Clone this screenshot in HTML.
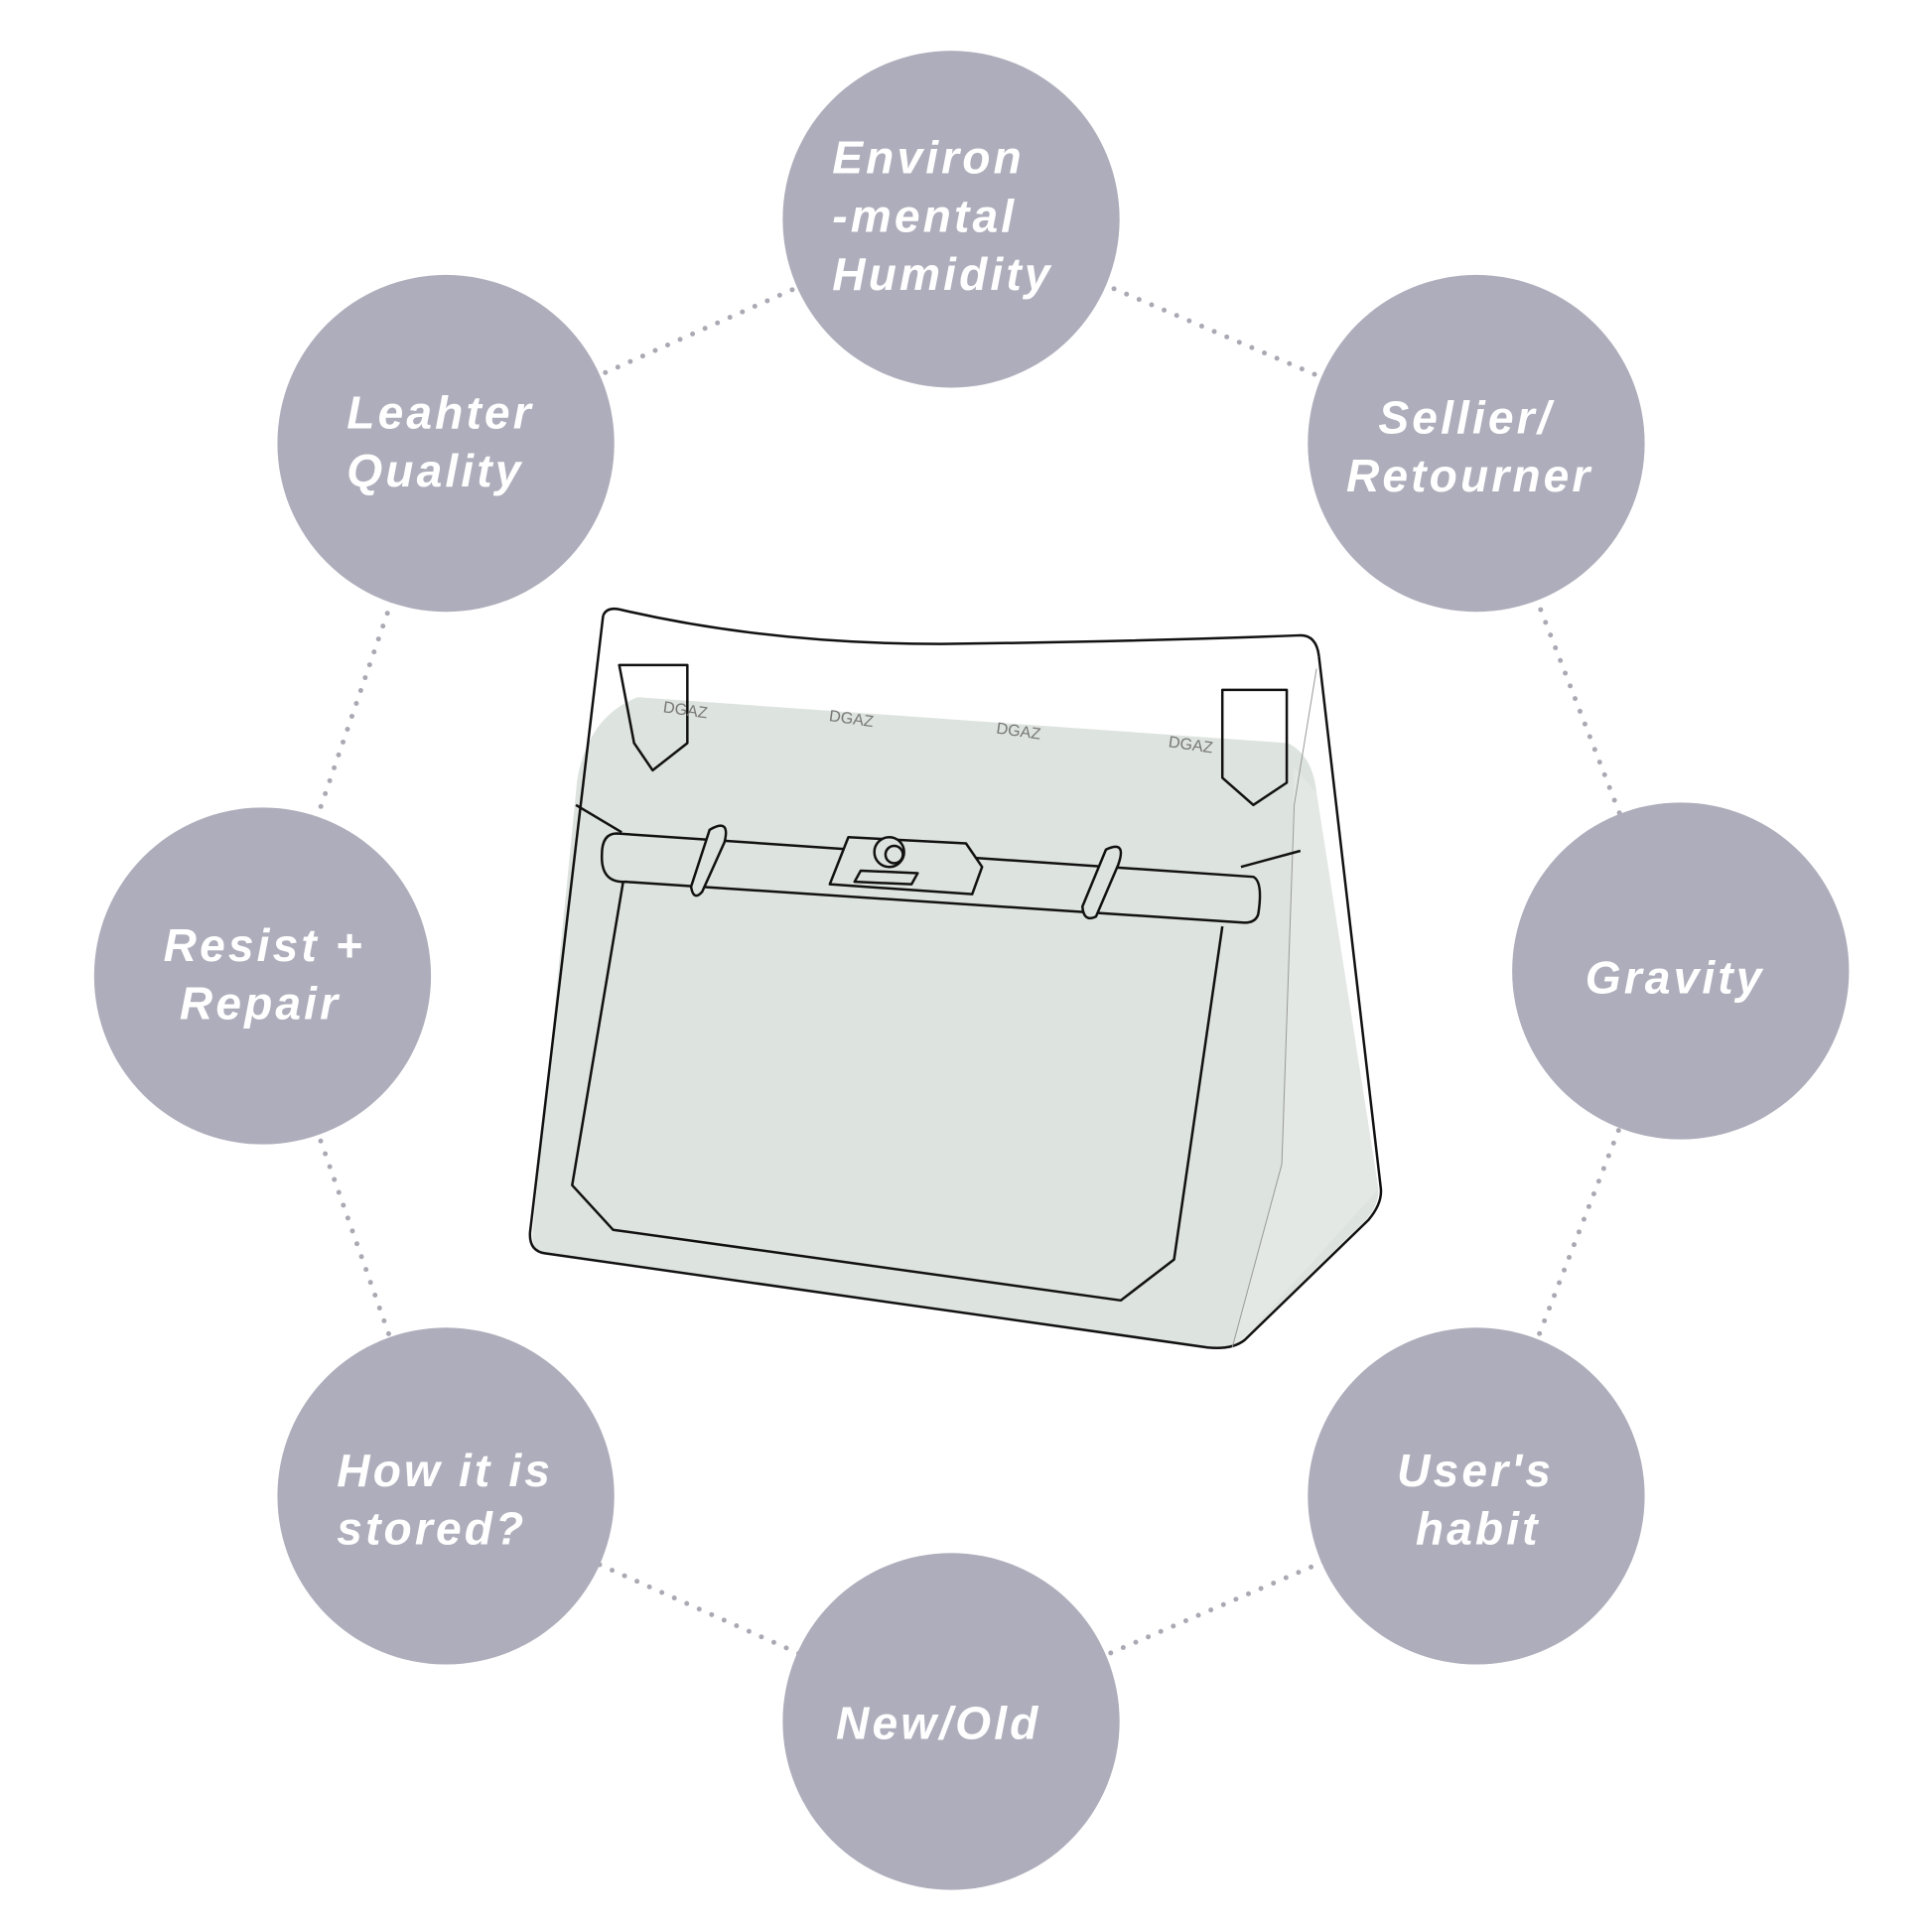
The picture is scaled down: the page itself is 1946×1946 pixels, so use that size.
<!DOCTYPE html>
<html><head><style>html,body{margin:0;padding:0;background:#fff;width:1946px;height:1946px;overflow:hidden}</style></head>
<body>
<svg width="1946" height="1946" viewBox="0 0 1560 1560" xmlns="http://www.w3.org/2000/svg">
<g stroke="#aaa9b3" stroke-width="4" stroke-linecap="round" stroke-dasharray="0 11" fill="none">
<polyline points="768,177 1192,358 1357,784 1192,1208 768,1390 360,1208 212,788 360,358 768,177"/>
</g>
<!-- bag -->
<path d="M515,563 L1040,600 Q1060,610 1063,640 L1113,960 Q1114,972 1103,985 L1003,1082 Q993,1090 975,1088 L440,1012 Q429,1010 430,995 L466,630 Q475,578 515,563 Z" fill="#dde3de"/>
<path d="M1045,620 L1063,640 L1113,960 L1003,1082 L995,1086 L1035,940 Z" fill="#e3e8e4"/>
<g stroke="#111" stroke-width="2" fill="none" stroke-linejoin="round">
<path d="M487,497 Q490,490 500,492 Q620,520 760,520 Q920,518 1050,513 Q1063,513 1065,530"/>
<path d="M487,497 L428,995 Q427,1010 440,1012 L975,1088 Q995,1090 1005,1082 L1105,985 Q1116,972 1115,960 L1065,530"/>
<path d="M1063,540 L1045,650 L1035,940 L995,1088" stroke-width="0.8" stroke="#999"/>
<path d="M500,537 L555,537 L555,600 L527,622 L512,600 Z"/>
<path d="M987,557 L1039,557 L1039,632 L1012,650 L987,628 Z"/>
<path d="M465,650 L502,672"/>
<path d="M1050,687 L1002,700"/>
<path d="M498,673 L1012,708 Q1020,712 1016,738 Q1014,745 1005,745 L505,712 Q485,713 486,690 Q486,673 498,673 Z" fill="#dde3de"/>
<path d="M503,713 L462,957 L495,993 L905,1050 L948,1017 L987,748"/>
<path d="M573,670 Q590,660 585,680 L567,720 Q560,728 558,716 Z" fill="#dde3de"/>
<path d="M893,686 Q910,678 903,698 L885,740 Q875,745 874,732 Z" fill="#dde3de"/>
<path d="M685,676 L780,681 L793,700 L785,722 L670,714 Z" fill="#dde3de"/>
<circle cx="718" cy="688" r="12" fill="#dde3de"/><circle cx="722" cy="690" r="7"/>
<path d="M695,703 L741,705 L736,714 L690,712 Z"/>
</g>
<g font-family="Liberation Sans, sans-serif" font-size="13" fill="#777">
<text x="535" y="575" transform="rotate(8 535 575)">DGAZ</text>
<text x="669" y="582" transform="rotate(8 669 582)">DGAZ</text>
<text x="804" y="592" transform="rotate(8 804 592)">DGAZ</text>
<text x="943" y="603" transform="rotate(8 943 603)">DGAZ</text>
</g>
<g fill="#aeadbb">
<circle cx="768" cy="177" r="136"/><circle cx="360" cy="358" r="136"/><circle cx="1192" cy="358" r="136"/>
<circle cx="212" cy="788" r="136"/><circle cx="1357" cy="784" r="136"/><circle cx="360" cy="1208" r="136"/>
<circle cx="1192" cy="1208" r="136"/><circle cx="768" cy="1390" r="136"/>
</g>
<g font-family="Liberation Sans, sans-serif" font-weight="bold" font-style="italic" font-size="37" fill="#fff" letter-spacing="2.5">
<text x="672" y="140">Environ</text><text x="672" y="187">-mental</text><text x="672" y="234">Humidity</text>
<text x="280" y="346">Leahter</text><text x="280" y="393">Quality</text>
<text x="1113" y="350">Sellier/</text><text x="1087" y="397">Retourner</text>
<text x="132" y="776">Resist +</text><text x="145" y="823">Repair</text>
<text x="1280" y="802">Gravity</text>
<text x="272" y="1200">How it is</text><text x="272" y="1247">stored?</text>
<text x="1128" y="1200">User's</text><text x="1143" y="1247">habit</text>
<text x="675" y="1404">New/Old</text>
</g>
</svg>
</body></html>
